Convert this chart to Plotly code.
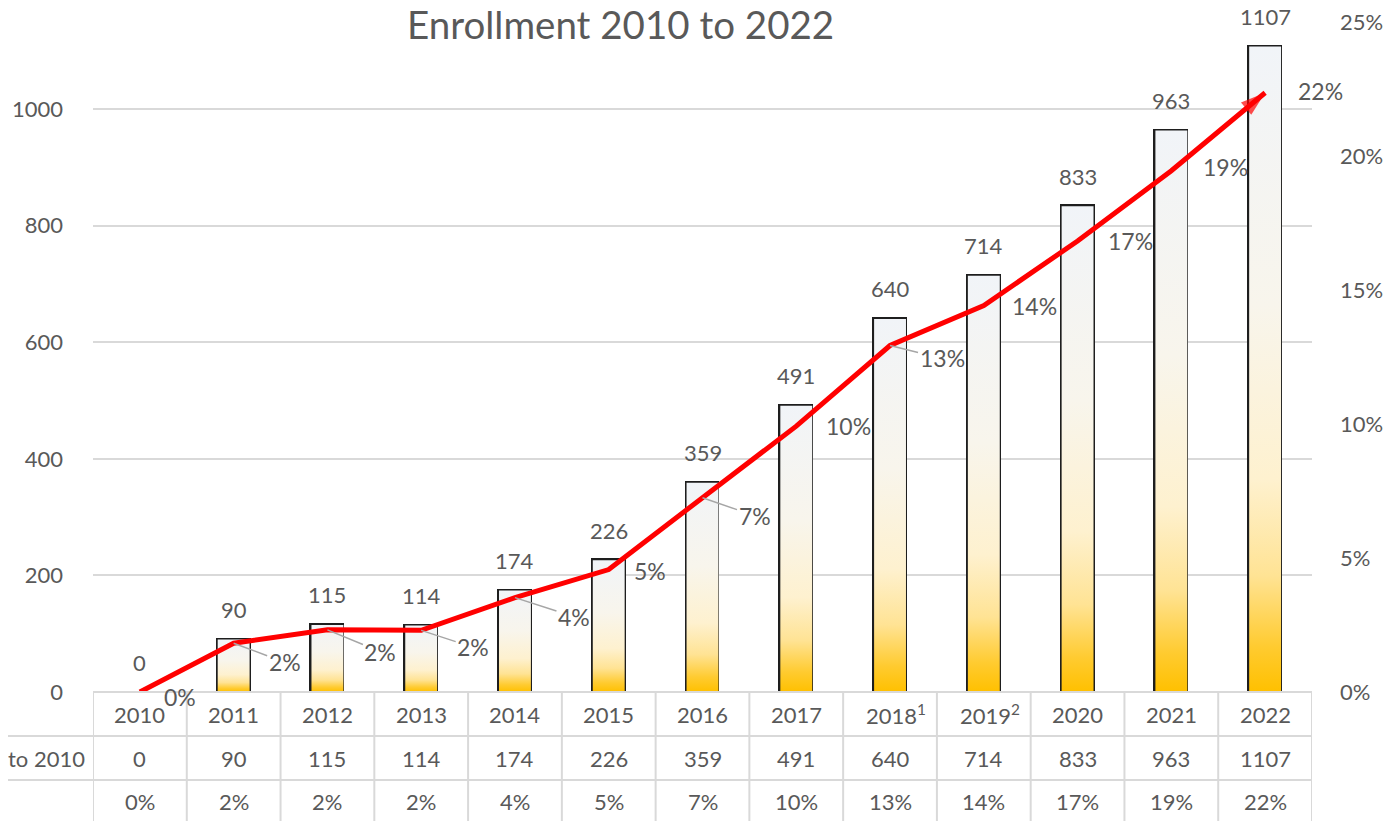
import plotly.graph_objects as go

years = ["2010", "2011", "2012", "2013", "2014", "2015", "2016",
         "2017", "2018", "2019", "2020", "2021", "2022"]
year_labels = ["2010", "2011", "2012", "2013", "2014", "2015", "2016",
               "2017", "2018<sup>1</sup>", "2019<sup>2</sup>", "2020", "2021", "2022"]
enrollment = [0, 90, 115, 114, 174, 226, 359, 491, 640, 714, 833, 963, 1107]
pct = [0.0, 0.0182, 0.0232, 0.0230, 0.0352, 0.0457, 0.0725, 0.0992,
       0.1293, 0.1442, 0.1683, 0.1945, 0.2236]
row_header = "to 2010"
title_text = "Enrollment 2010 to 2022"

# label offsets (px) of percentage labels and whether a leader line is drawn
pct_dx = [40, 51, 53, 52, 59, 41, 52, 52, 52, 51, 53, 54, 55]
pct_dy = [5, 19, 22, 17, 19, 1, 18, 0, 13, 0, 0, -4, -2]
leader = [False, True, True, True, True, False, True, False, True, False, False, False, False]

FONT = "Lato, 'Open Sans', sans-serif"
GRAY = "#595959"
GRID = "#D9D9D9"

# page body offsets the figure by 8px; compensate in margins
OFF = 8
W, H = 1400, 821
REF_L, REF_R, REF_T, REF_B = 93, 1312, 22, 692
plot_w = REF_R - REF_L
plot_h = REF_B - REF_T
ML = REF_L - OFF
MT = REF_T - OFF
MR = W - ML - plot_w
MB = H - MT - plot_h
y_max = 1000 * plot_h / 583.0

n = len(years)
xs = list(range(n))
bw = 0.34


def py(ref_pix):
    return (REF_B - ref_pix) / plot_h


def px(ref_pix):
    return (ref_pix - REF_L) / plot_w


fig = go.Figure()

gradient = [[0.0, "#FFC000"], [0.07, "#FFCB30"], [0.18, "#FFE394"],
            [0.33, "#FEF1CF"], [0.6, "#F8F5EC"], [1.0, "#F1F4F8"]]

for i, v in zip(xs, enrollment):
    if v <= 0:
        continue
    fig.add_trace(go.Scatter(
        x=[i - bw / 2, i + bw / 2, i + bw / 2, i - bw / 2, i - bw / 2],
        y=[0, 0, v, v, 0],
        mode="lines", fill="toself", line=dict(width=0),
        fillgradient=dict(type="vertical", colorscale=gradient),
        hoverinfo="skip", showlegend=False))

fig.add_trace(go.Bar(
    x=xs, y=enrollment, width=bw,
    marker=dict(color="rgba(0,0,0,0)",
                line=dict(color="#1E1E1E", width=[0 if v == 0 else 3 for v in enrollment])),
    showlegend=False, hoverinfo="skip"))

fig.add_trace(go.Scatter(
    x=xs, y=pct, yaxis="y2", mode="lines+markers",
    line=dict(color="#FF0000", width=5),
    marker=dict(symbol="arrow", angleref="previous", color="#FF0000",
                size=[0] * (n - 1) + [26], line=dict(width=0)),
    showlegend=False, hoverinfo="skip"))

annotations = []
# value labels above bars
for i, v in zip(xs, enrollment):
    annotations.append(dict(x=i, y=v, xref="x", yref="y", text=str(v),
                            showarrow=False, yshift=30, yanchor="middle",
                            font=dict(family=FONT, size=22, color=GRAY)))
# percentage labels
for i, p in enumerate(pct):
    txt = f"{round(p * 100):.0f}%"
    if leader[i]:
        annotations.append(dict(x=i, y=p, xref="x", yref="y2", text=txt,
                                showarrow=True, ax=pct_dx[i], ay=pct_dy[i],
                                axref="pixel", ayref="pixel",
                                arrowhead=0, arrowwidth=1.5, arrowcolor="#A6A6A6",
                                standoff=0, startstandoff=0,
                                font=dict(family=FONT, size=23, color=GRAY)))
    else:
        annotations.append(dict(x=i, y=p, xref="x", yref="y2", text=txt,
                                showarrow=False, xshift=pct_dx[i], yshift=-pct_dy[i],
                                font=dict(family=FONT, size=23, color=GRAY)))

# data table
row_px = [692, 736, 780, 824]
shapes = []
shapes.append(dict(type="line", xref="x", yref="paper", x0=-0.5, x1=n - 0.5,
                   y0=py(row_px[0]), y1=py(row_px[0]), line=dict(color=GRID, width=2)))
for r in row_px[1:]:
    shapes.append(dict(type="line", xref="paper", yref="paper", x0=px(-10), x1=1,
                       y0=py(r), y1=py(r), line=dict(color=GRID, width=2)))
for k in range(n + 1):
    shapes.append(dict(type="line", xref="x", yref="paper", x0=k - 0.5, x1=k - 0.5,
                       y0=py(row_px[0]), y1=py(row_px[-1]), line=dict(color=GRID, width=2)))

for i in xs:
    annotations.append(dict(x=i, y=py(714), xref="x", yref="paper", text=year_labels[i],
                            showarrow=False, yanchor="middle",
                            xshift=6 if "<sup>" in year_labels[i] else 0,
                            font=dict(family=FONT, size=22, color=GRAY)))
    annotations.append(dict(x=i, y=py(758), xref="x", yref="paper", text=str(enrollment[i]),
                            showarrow=False, yanchor="middle",
                            font=dict(family=FONT, size=22, color=GRAY)))
    annotations.append(dict(x=i, y=py(801), xref="x", yref="paper",
                            text=f"{round(pct[i] * 100):.0f}%",
                            showarrow=False, yanchor="middle",
                            font=dict(family=FONT, size=22, color=GRAY)))
annotations.append(dict(x=-0.5, y=py(758), xref="x", yref="paper", text=row_header,
                        showarrow=False, xanchor="right", xshift=-6, yanchor="middle",
                        font=dict(family=FONT, size=22, color=GRAY)))

# title
annotations.append(dict(x=px(620), y=py(24), xref="paper", yref="paper",
                        text=title_text, showarrow=False, xanchor="center", yanchor="middle",
                        font=dict(family=FONT, size=38.5, color=GRAY)))

fig.update_layout(
    width=W, height=H,
    margin=dict(l=ML, r=MR, t=MT, b=MB, pad=0, autoexpand=False),
    paper_bgcolor="white", plot_bgcolor="white",
    font=dict(family=FONT, size=22, color=GRAY),
    xaxis=dict(range=[-0.5, n - 0.5], showticklabels=False, showgrid=False,
               zeroline=False, showline=False, ticks="", fixedrange=True,
               automargin=False),
    yaxis=dict(range=[0, y_max], tickvals=[0, 200, 400, 600, 800, 1000],
               showgrid=True, gridcolor=GRID, gridwidth=2, zeroline=False,
               showline=False, ticks="", ticklabelstandoff=29,
               ticklabeloverflow="allow", automargin=False,
               tickfont=dict(family=FONT, size=22, color=GRAY)),
    yaxis2=dict(range=[0, 0.25], overlaying="y", side="right",
                tickvals=[0, 0.05, 0.10, 0.15, 0.20, 0.25], tickformat=".0%",
                showgrid=False, zeroline=False, showline=False, ticks="",
                ticklabelstandoff=27, ticklabeloverflow="allow", automargin=False,
                tickfont=dict(family=FONT, size=22, color=GRAY)),
    shapes=shapes, annotations=annotations,
    bargap=0,
)

fig.write_html("out.html")
